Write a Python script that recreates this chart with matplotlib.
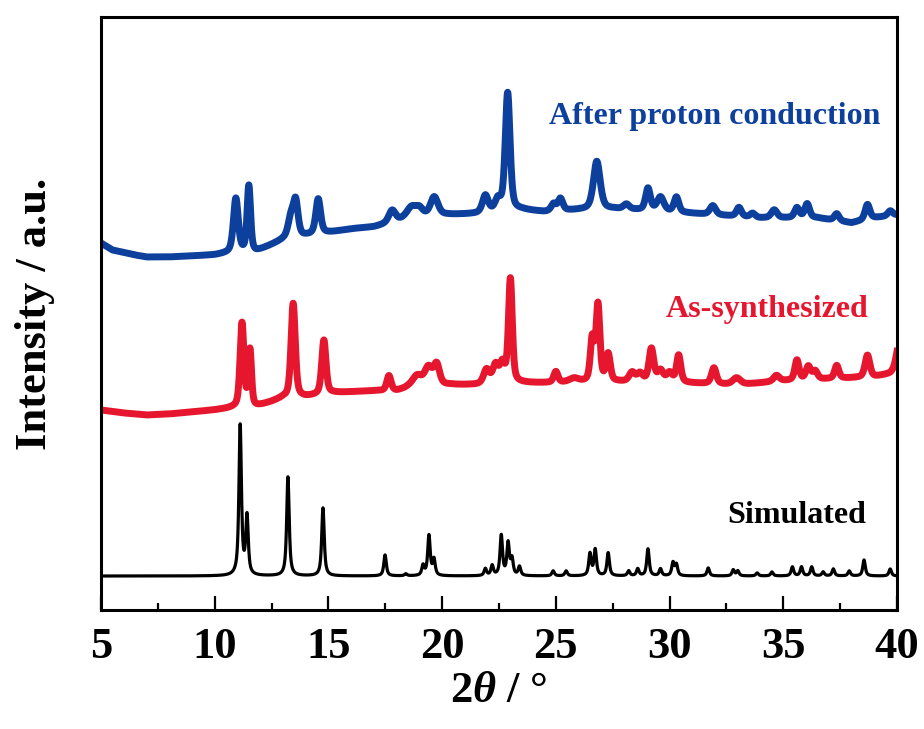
import numpy as np
import matplotlib.pyplot as plt

plt.rcParams['font.family'] = ['Liberation Serif', 'DejaVu Serif']
plt.rcParams['font.weight'] = 'bold'
plt.rcParams['axes.labelweight'] = 'bold'
plt.rcParams['mathtext.fontset'] = 'custom'
plt.rcParams['mathtext.it'] = 'Liberation Serif:italic:bold'
plt.rcParams['mathtext.rm'] = 'Liberation Serif:bold'

# 2theta grid of the scan
two_theta = np.linspace(5, 40, 3501)

# simulated pattern: flat baseline + peak list (position, height, fwhm)
sim_base = 34
sim_pos = [11.12, 11.42, 13.22, 14.76, 17.49, 18.40, 19.16, 19.42, 19.64, 21.90, 22.20,
           22.60, 22.90, 23.07, 23.40, 24.88, 25.45, 26.50, 26.73, 27.30, 28.20, 28.60,
           29.05, 29.60, 30.15, 30.30, 31.70, 32.80, 33.00, 33.85, 34.50, 35.40, 35.80,
           36.25, 36.75, 37.20, 37.90, 38.55, 39.70]
sim_hgt = [150, 58, 99, 68, 21, 2, 10, 40, 16, 7, 10,
           40, 32, 16, 9, 5, 5, 22, 26, 23, 5, 7,
           27, 7, 13, 11, 8, 6, 5, 3, 4, 9, 9,
           9, 4, 7, 5, 16, 7]
sim_fwhm = 0.13

# as-synthesized: baseline points + peaks
red_bx = [5, 6, 7, 8, 9, 10, 10.8, 11.8, 12.5, 13.0, 14.0, 15.2, 16, 17, 18, 18.5, 20.3,
          21.5, 23.5, 25, 27.7, 30.7, 33, 35, 37, 39, 39.7, 40]
red_by = [200, 197, 195, 196, 198, 200, 202, 203, 208, 212, 213, 217, 218, 219, 219, 222, 225,
          225, 227, 227, 228, 227, 225, 229, 231, 233, 236, 240]
red_pos = [11.20, 11.55, 13.45, 14.80, 17.66, 18.90, 19.40, 19.76, 21.95, 22.35, 22.65,
           23.00, 25.00, 25.80, 26.60, 26.85, 27.30, 28.35, 28.70, 29.20, 29.60, 30.00,
           30.40, 31.95, 32.95, 34.70, 35.60, 36.10, 36.40, 37.35, 38.70, 40.10]
red_hgt = [84, 56, 94, 54, 15, 11, 18, 20, 14, 18, 18,
           104, 11, 4, 42, 76, 27, 9, 8, 33, 11, 9,
           27, 16, 7, 6, 20, 13, 8, 13, 22, 26]
red_wid = [0.20, 0.16, 0.22, 0.22, 0.22, 0.50, 0.40, 0.30, 0.30, 0.30, 0.25,
           0.20, 0.22, 0.50, 0.20, 0.20, 0.22, 0.30, 0.30, 0.25, 0.30, 0.30,
           0.22, 0.25, 0.40, 0.30, 0.22, 0.25, 0.25, 0.22, 0.25, 0.30]

# after proton conduction: baseline points + peaks
blue_bx = [5, 5.5, 6.5, 7, 8, 9, 10, 10.7, 11.8, 12.5, 13.0, 14.0, 15.2, 16, 17, 18.3, 20.2,
           21.5, 23.5, 24.5, 26, 27.5, 28.5, 30.7, 32, 34, 36.5, 38, 39, 40]
blue_by = [367, 360, 355, 353, 353, 354, 355, 357, 358, 365, 370, 374, 378, 381, 383, 390, 395,
           396, 400, 398, 400, 401, 400, 397, 395, 392, 392, 387, 392, 395]
blue_pos = [10.93, 11.50, 13.35, 13.56, 14.55, 17.80, 18.65, 19.00, 19.65, 21.90, 22.45,
            22.88, 24.90, 25.20, 26.80, 28.10, 29.05, 29.60, 30.30, 31.90, 33.05, 33.65,
            34.60, 35.60, 36.05, 37.35, 38.70, 39.70]
blue_hgt = [54, 66, 20, 34, 35, 12, 11, 8, 19, 17, 11,
            118, 7, 12, 48, 5, 22, 14, 15, 9, 9, 4,
            8, 10, 14, 7, 15, 5]
blue_wid = [0.25, 0.18, 0.30, 0.25, 0.25, 0.35, 0.50, 0.40, 0.40, 0.30, 0.30,
            0.25, 0.25, 0.25, 0.35, 0.30, 0.25, 0.35, 0.25, 0.30, 0.25, 0.25,
            0.30, 0.25, 0.25, 0.25, 0.25, 0.25]


def pattern(x, base, pos, hgt, wid, eta=0.6):
    """sum of pseudo-Voigt peaks on top of a baseline"""
    y = np.array(base, dtype=float) * np.ones_like(x)
    wid = np.broadcast_to(wid, len(pos))
    for p, h, w in zip(pos, hgt, wid):
        d = (x - p) / (w / 2)
        lor = 1 / (1 + d**2)
        gau = np.exp(-np.log(2) * d**2)
        y += h * (eta * lor + (1 - eta) * gau)
    return y


sim = pattern(two_theta, sim_base, sim_pos, sim_hgt, sim_fwhm, eta=0.8)
red = pattern(two_theta, np.interp(two_theta, red_bx, red_by), red_pos, red_hgt, red_wid, eta=0.5)
blue = pattern(two_theta, np.interp(two_theta, blue_bx, blue_by), blue_pos, blue_hgt, blue_wid, eta=0.5)

blue_c = '#0D3F9C'
red_c = '#E5162D'

fig = plt.figure(figsize=(9.24, 7.29), dpi=100)
ax = fig.add_axes([0.1093, 0.1632, 0.8615, 0.8135])

ax.plot(two_theta, sim, color='black', linewidth=2.3)
ax.plot(two_theta, red, color=red_c, linewidth=5)
ax.plot(two_theta, blue, color=blue_c, linewidth=5)

ax.text(32.0, 493, 'After proton conduction', color=blue_c, fontsize=23, ha='center', va='center')
ax.text(34.3, 301, 'As-synthesized', color=red_c, fontsize=23, ha='center', va='center')
ax.text(35.6, 95, 'Simulated', color='black', fontsize=23, ha='center', va='center')

ax.set_xlim(5, 40)
ax.set_ylim(0, 593)
ax.set_xticks([5, 10, 15, 20, 25, 30, 35, 40])
ax.set_xticks([7.5, 12.5, 17.5, 22.5, 27.5, 32.5, 37.5], minor=True)
ax.set_yticks([])
ax.tick_params(axis='x', which='major', direction='in', length=10, width=1.6,
               labelsize=32, pad=12)
ax.tick_params(axis='x', which='minor', direction='in', length=5, width=1.6)
for s in ax.spines.values():
    s.set_linewidth(2.2)

ax.set_xlabel(r'2$\theta$ / °', fontsize=32, labelpad=3)
ax.set_ylabel('Intensity / a.u.', fontsize=32)
ax.yaxis.set_label_coords(-0.058, 0.5)

fig.savefig('out.png', dpi=100)
